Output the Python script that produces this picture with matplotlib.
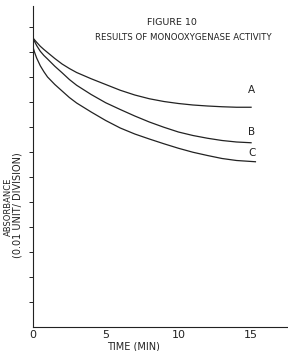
import matplotlib.pyplot as plt

# time (min) and absorbance (divisions)
time_a = [0, 0.1, 0.25, 0.5, 0.75, 1, 1.5, 2, 2.5, 3, 4, 5, 6, 7, 8, 9, 10, 11, 12, 13, 14, 15]
curve_a = [11.56, 11.49, 11.39, 11.23, 11.1, 10.98, 10.74, 10.52, 10.34, 10.18, 9.93, 9.7, 9.47, 9.28, 9.13, 9.02, 8.94, 8.88, 8.84, 8.81, 8.79, 8.79]

time_b = [0, 0.1, 0.25, 0.5, 0.75, 1, 1.5, 2, 2.5, 3, 4, 5, 6, 7, 8, 9, 10, 11, 12, 13, 14, 15]
curve_b = [11.56, 11.43, 11.26, 11.03, 10.86, 10.72, 10.43, 10.17, 9.9, 9.67, 9.3, 8.97, 8.7, 8.44, 8.2, 7.99, 7.8, 7.66, 7.55, 7.46, 7.4, 7.37]

time_c = [0, 0.1, 0.25, 0.5, 0.75, 1, 1.5, 2, 2.5, 3, 4, 5, 6, 7, 8, 9, 10, 11, 12, 13, 14, 15.3]
curve_c = [11.2, 11.0, 10.76, 10.45, 10.21, 10.0, 9.7, 9.44, 9.18, 8.96, 8.6, 8.26, 7.96, 7.72, 7.52, 7.33, 7.15, 6.99, 6.86, 6.74, 6.66, 6.61]

labels = ["A", "B", "C"]
label_y = [9.48, 7.8, 6.96]
xticks = [0, 5, 10, 15]
yticks = list(range(1, 13))

ink = "#222222"
plt.rcParams['font.family'] = ['Liberation Sans Narrow', 'DejaVu Sans']

fig = plt.figure(figsize=(2.88, 3.51), dpi=100)
ax = fig.add_axes([0.1146, 0.0684, 0.8854, 0.9145])

for t, v in zip([time_a, time_b, time_c], [curve_a, curve_b, curve_c]):
    ax.plot(t, v, color=ink, lw=0.9)

for lab, y in zip(labels, label_y):
    ax.text(15.06, y, lab, color=ink, fontsize=7.5, ha="center", va="center")

ax.set_xlim(0, 17.54)
ax.set_ylim(0, 12.84)
ax.spines['top'].set_visible(False)
ax.spines['right'].set_visible(False)
ax.spines['left'].set_color(ink)
ax.spines['bottom'].set_color(ink)
ax.set_xticks(xticks)
ax.set_xticklabels([str(x) for x in xticks], fontsize=8, color=ink)
ax.tick_params(axis='x', length=0, pad=2)
ax.set_yticks(yticks)
ax.set_yticklabels([])
ax.tick_params(axis='y', length=3, width=0.7, color=ink)

fig.text(0.598, 0.937, "FIGURE 10", fontsize=6.8, color=ink, ha="center", va="center")
fig.text(0.635, 0.894, "RESULTS OF MONOOXYGENASE ACTIVITY", fontsize=6.2, color=ink, ha="center", va="center")
fig.text(0.028, 0.41, "ABSORBANCE", fontsize=6, color=ink, rotation=90, ha="center", va="center")
fig.text(0.062, 0.415, "(0.01 UNIT/ DIVISION)", fontsize=7, color=ink, rotation=90, ha="center", va="center")
fig.text(0.465, 0.013, "TIME (MIN)", fontsize=7, color=ink, ha="center", va="center")

fig.savefig("out.png", dpi=100, facecolor="white")
